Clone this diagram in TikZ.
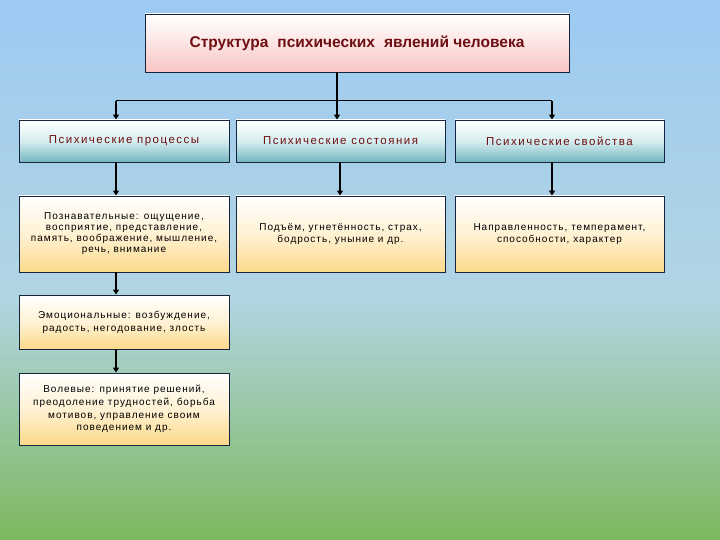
\documentclass[tikz,border=0pt]{standalone}
\usepackage{fontspec}
\setmainfont{Liberation Sans}
\newfontfamily\boxfont[LetterSpace=10]{Liberation Sans}
\newfontfamily\headfont[LetterSpace=13]{Liberation Sans}
\usetikzlibrary{arrows.meta}
\definecolor{bgblue}{HTML}{9CCAF2}
\definecolor{bgmid}{HTML}{B2D5E2}
\definecolor{bgpale}{HTML}{B4D6A6}
\definecolor{bggreen}{HTML}{7CB85E}
\definecolor{navy}{HTML}{16243E}
\definecolor{pinkbot}{HTML}{F8C4C2}
\definecolor{tealbot}{HTML}{74B6C0}
\definecolor{tealmid}{HTML}{D6EEF0}
\definecolor{goldbot}{HTML}{FCD98A}
\definecolor{goldmid}{HTML}{FFF2D4}
\definecolor{darkred}{HTML}{6E0E10}
\tikzset{
  box/.style={draw=navy, line width=0.9pt, inner sep=2pt, align=center},
  titlebox/.style={box, top color=white, bottom color=pinkbot, middle color=white!55!pinkbot,
    font=\fontsize{15.5}{18}\selectfont\bfseries, text=darkred},
  headbox/.style={box, top color=white, bottom color=tealbot, middle color=tealmid,
    font=\headfont\fontsize{11.5}{13}\selectfont, text=darkred},
  textbox/.style={box, top color=white, bottom color=goldbot, middle color=goldmid,
    font=\boxfont\fontsize{10}{12.8}\selectfont, text=black},
  conn/.style={draw=black, line width=1.2pt},
  arr/.style={conn, -{Triangle[length=5pt,width=6pt]}},
  thickarr/.style={arr, line width=1.7pt},
}
\begin{document}
\begin{tikzpicture}[x=1pt,y=-1pt]
\useasboundingbox (0,0) rectangle (720,540);
\fill[top color=bgblue, bottom color=bgmid] (0,0) rectangle (720,300);
\fill[top color=bgmid, middle color=bgpale, bottom color=bggreen] (0,299.5) rectangle (720,540);

\node[titlebox, minimum width=424pt, minimum height=58pt] (top) at (357,43)
  {Структура\hspace{0.3em} психических\hspace{0.3em} явлений человека};

\node[headbox, minimum width=210pt, minimum height=42pt] (h1) at (124,141) {Психические процессы};
\node[headbox, minimum width=209pt, minimum height=42pt] (h2) at (340.5,141) {Психические состояния};
\node[headbox, minimum width=209pt, minimum height=42pt] (h3) at (559.5,141) {Психические свойства};

\node[textbox, minimum width=210pt, minimum height=76pt, font=\boxfont\fontsize{10}{11}\selectfont] (p1) at (124,234)
  {Познавательные: ощущение,\\восприятие, представление,\\память, воображение, мышление,\\речь, внимание};
\node[textbox, minimum width=209pt, minimum height=76pt] (p2) at (340.5,234)
  {Подъём, угнетённость, страх,\\бодрость, уныние и др.};
\node[textbox, minimum width=209pt, minimum height=76pt] (p3) at (559.5,234)
  {Направленность, темперамент,\\способности, характер};
\node[textbox, minimum width=210pt, minimum height=54pt] (e1) at (124,322)
  {Эмоциональные: возбуждение,\\радость, негодование, злость};
\node[textbox, minimum width=210pt, minimum height=72pt] (v1) at (124,409)
  {Волевые: принятие решений,\\преодоление трудностей, борьба\\мотивов, управление своим\\поведением и др.};

\coordinate (hub) at (337,101);
\coordinate (hl) at (116,101);
\coordinate (hr) at (552,101);
\coordinate (c1) at (116,0);
\coordinate (c2) at (340,0);
\coordinate (c3) at (552,0);

\draw[conn, line width=1.8pt] (top.south -| hub) -- (hub);
\draw[conn, line width=1pt] (hl) -- (hr);
\draw[arr] (hl) -- (h1.north -| hl);
\draw[arr] (hub) -- (h2.north -| hub);
\draw[arr] (hr) -- (h3.north -| hr);

\draw[thickarr] (h1.south -| c1) -- (p1.north -| c1);
\draw[thickarr] (h2.south -| c2) -- (p2.north -| c2);
\draw[arr] (h3.south -| c3) -- (p3.north -| c3);
\draw[thickarr] (p1.south -| c1) -- (e1.north -| c1);
\draw[thickarr] (e1.south -| c1) -- (v1.north -| c1);
\end{tikzpicture}
\end{document}
